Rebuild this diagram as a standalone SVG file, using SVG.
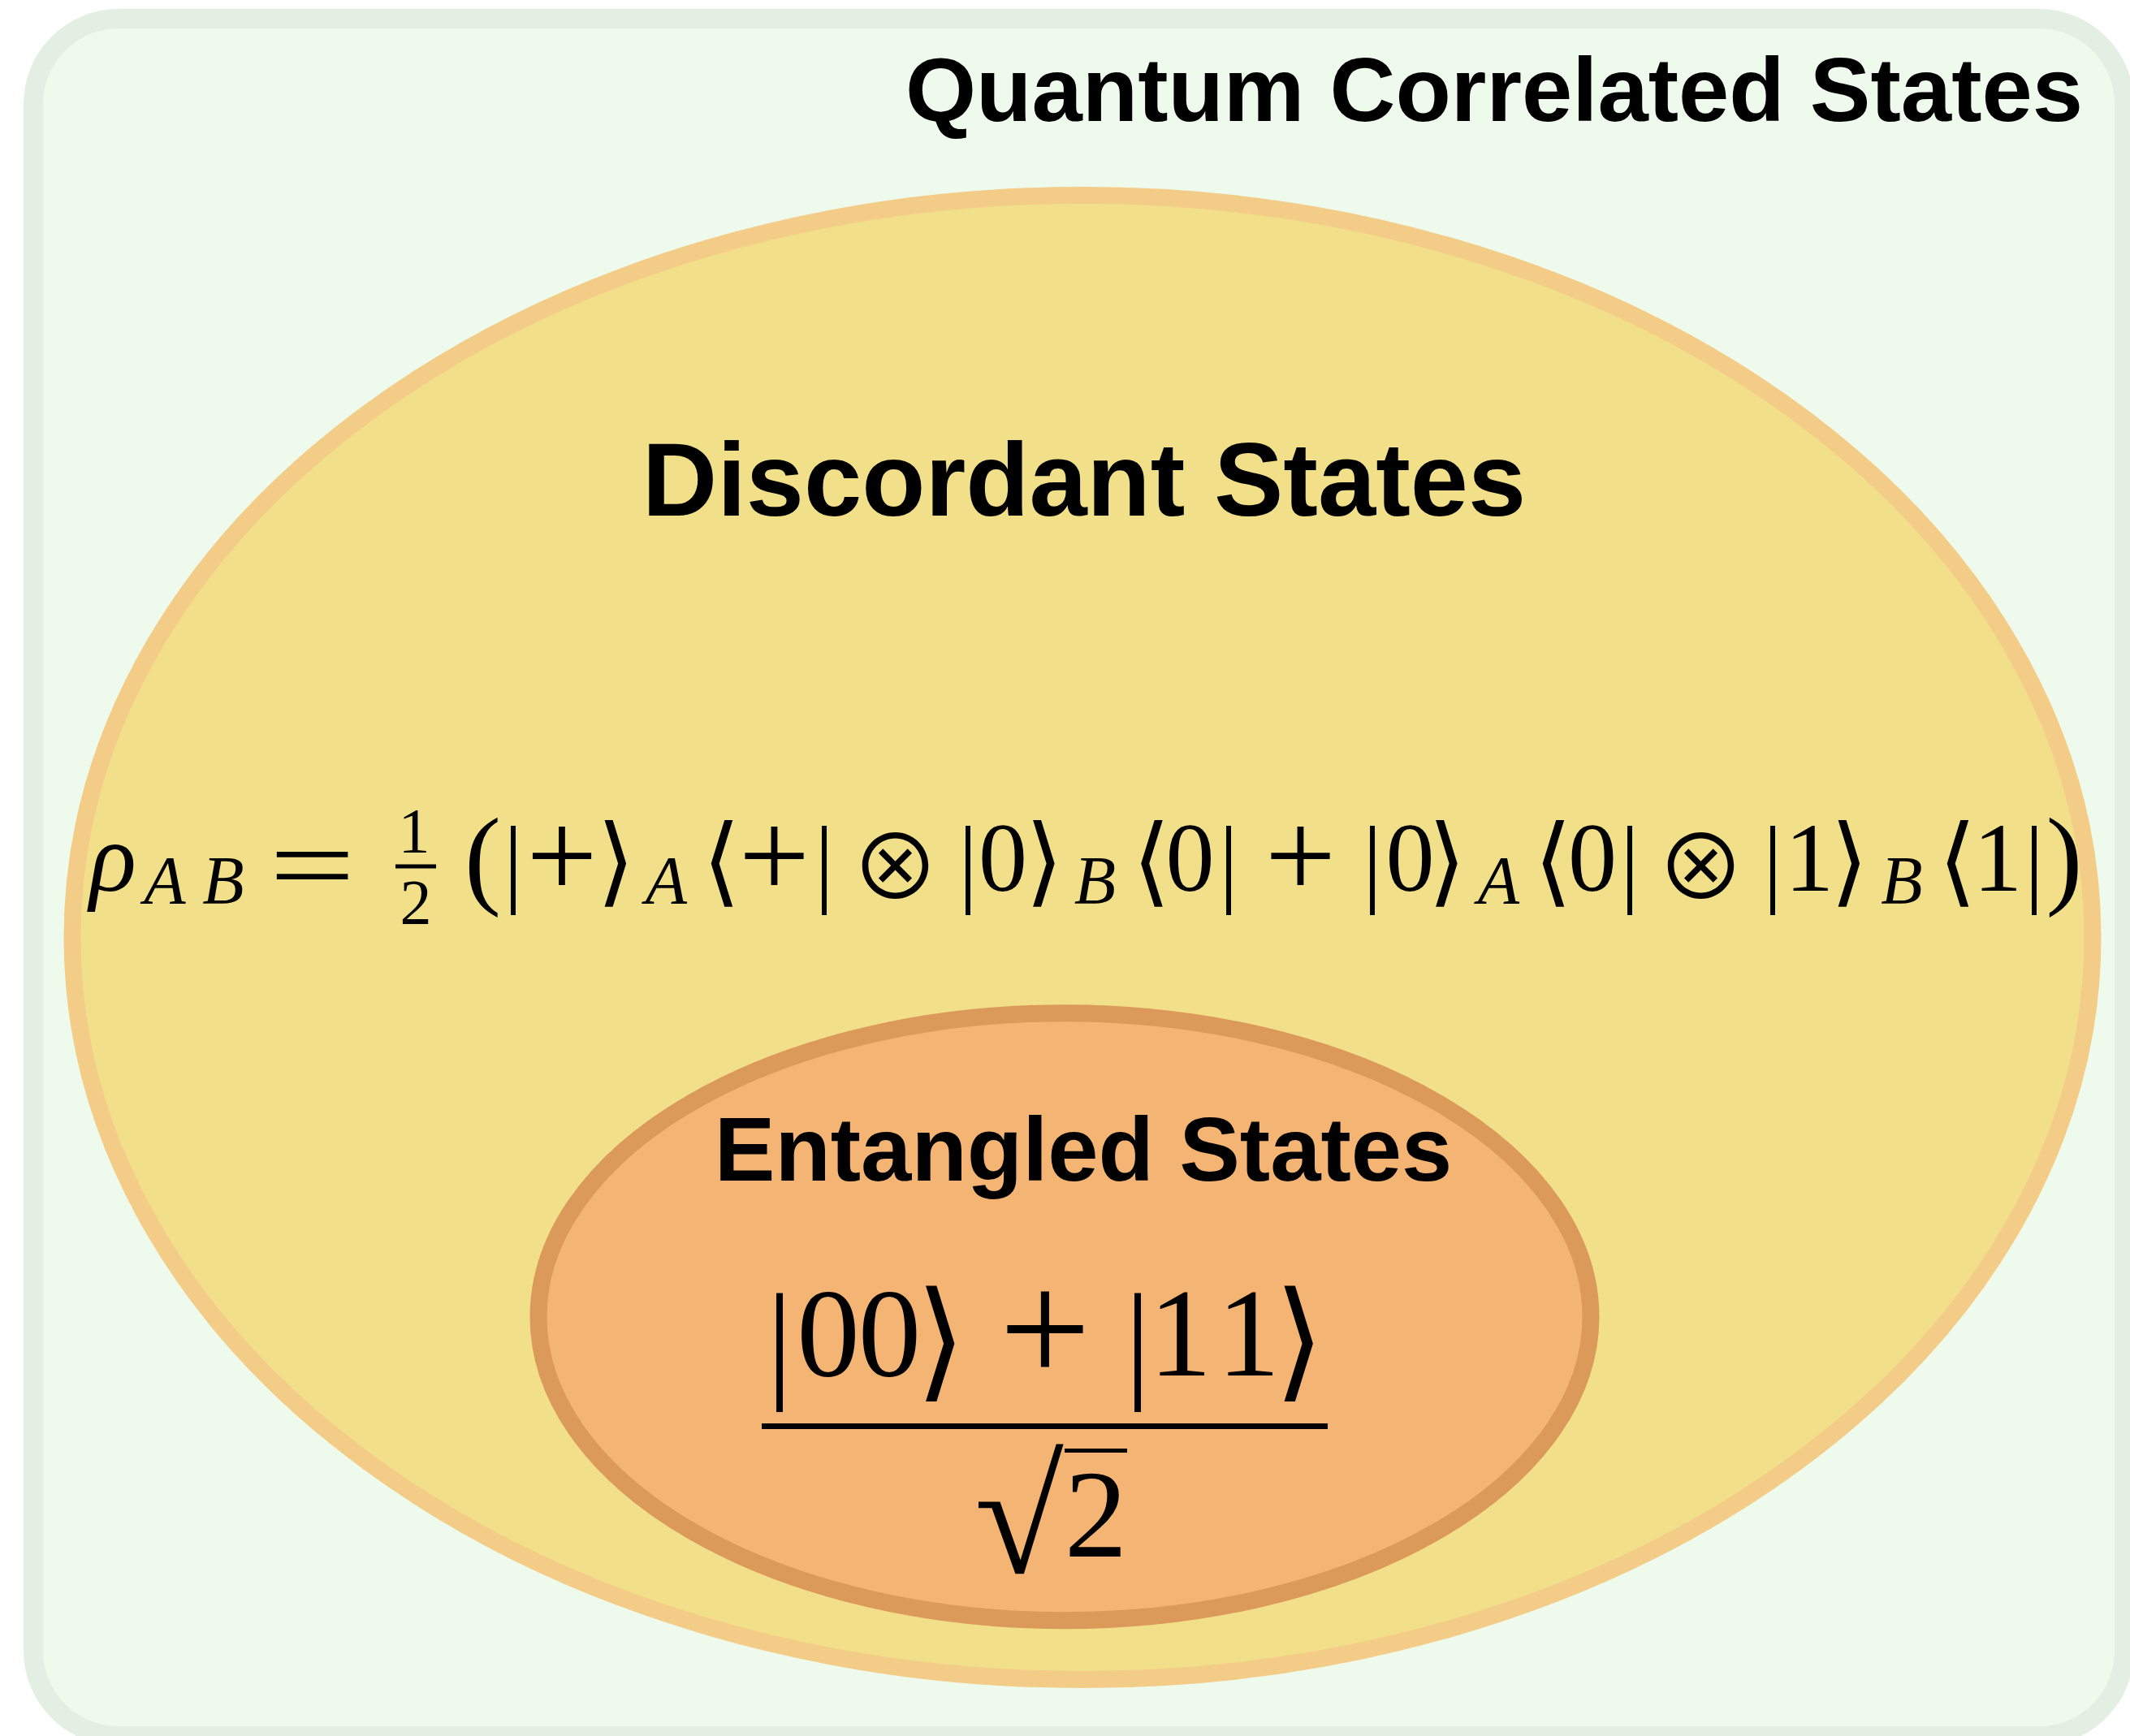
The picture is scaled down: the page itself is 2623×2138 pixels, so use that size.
<svg xmlns="http://www.w3.org/2000/svg" width="2623" height="2138" viewBox="0 0 2623 2138">
<defs>
<style>
.title{font-family:"Liberation Sans",Arial,sans-serif;font-weight:bold;fill:#000}
.m{font-family:"Liberation Serif","Times New Roman",serif;fill:#000;text-anchor:middle}
.mi{font-family:"Liberation Serif","Times New Roman",serif;font-style:italic;fill:#000;text-anchor:middle}
.sym{font-family:"DejaVu Sans","DejaVu Serif",sans-serif;fill:#000;text-anchor:middle}
.otimes{font-family:"Noto Sans CJK SC","DejaVu Sans",sans-serif;fill:#000;text-anchor:middle}
.rule{stroke:#000;fill:none}
</style>
</defs>
<rect width="2623" height="2138" fill="#ffffff"/>
<g id="quantum-correlated">
<rect x="41" y="23" width="2575" height="2115" rx="105" ry="105" fill="#eefaeb" stroke="#e3efe3" stroke-width="24"/>
<text class="title" x="2565" y="149" font-size="112" text-anchor="end">Quantum Correlated States</text>
</g>
<g id="discordant">
<ellipse cx="1333" cy="1154.5" rx="1244" ry="914" fill="#f2df8a" stroke="#f3cd87" stroke-width="21"/>
<text class="title" x="1335" y="635" font-size="128" text-anchor="middle">Discordant States</text>
<g id="discord-formula">
<text class="mi" x="139" y="1097" font-size="120">ρ</text>
<text class="mi" x="203" y="1113" font-size="84">A</text>
<text class="mi" x="275" y="1113" font-size="84">B</text>
<text class="m" x="384.5" y="1111" font-size="135" textLength="106" lengthAdjust="spacingAndGlyphs">=</text>
<text class="m" x="510" y="1049" font-size="78">1</text>
<line class="rule" x1="487" y1="1067" x2="537" y2="1067" stroke-width="5"/>
<text class="m" x="512" y="1137" font-size="78">2</text>
<text class="m" x="594.5" y="1101" font-size="135">(</text>
<text class="m" x="632" y="1101" font-size="120">|</text>
<text class="m" x="692" y="1106" font-size="155">+</text>
<text class="sym" x="758.5" y="1101" font-size="120">⟩</text>
<text class="mi" x="820.5" y="1113" font-size="84">A</text>
<text class="sym" x="888.5" y="1101" font-size="120">⟨</text>
<text class="m" x="953.5" y="1106" font-size="155">+</text>
<text class="m" x="1015" y="1101" font-size="120">|</text>
<text class="otimes" x="1102.5" y="1108" font-size="110">⊗</text>
<text class="m" x="1192" y="1101" font-size="120">|</text>
<text class="m" x="1235" y="1097" font-size="120">0</text>
<text class="sym" x="1286" y="1101" font-size="120">⟩</text>
<text class="mi" x="1348.5" y="1113" font-size="84">B</text>
<text class="sym" x="1418" y="1101" font-size="120">⟨</text>
<text class="m" x="1465.5" y="1097" font-size="120">0</text>
<text class="m" x="1513" y="1101" font-size="120">|</text>
<text class="m" x="1601.5" y="1106" font-size="155">+</text>
<text class="m" x="1690" y="1101" font-size="120">|</text>
<text class="m" x="1736.5" y="1097" font-size="120">0</text>
<text class="sym" x="1782" y="1101" font-size="120">⟩</text>
<text class="mi" x="1845.5" y="1113" font-size="84">A</text>
<text class="sym" x="1912.5" y="1101" font-size="120">⟨</text>
<text class="m" x="1961" y="1097" font-size="120">0</text>
<text class="m" x="2007" y="1101" font-size="120">|</text>
<text class="otimes" x="2094.5" y="1108" font-size="110">⊗</text>
<text class="m" x="2183" y="1101" font-size="120">|</text>
<text class="m" x="2228" y="1097" font-size="120">1</text>
<text class="sym" x="2277.5" y="1101" font-size="120">⟩</text>
<text class="mi" x="2342" y="1113" font-size="84">B</text>
<text class="sym" x="2410.5" y="1101" font-size="120">⟨</text>
<text class="m" x="2460" y="1097" font-size="120">1</text>
<text class="m" x="2505" y="1101" font-size="120">|</text>
<text class="m" x="2542" y="1101" font-size="135">)</text>
</g>
</g>
<g id="entangled">
<ellipse cx="1311" cy="1621.7" rx="648" ry="374" fill="#f4b473" stroke="#dc9a5a" stroke-width="21"/>
<text class="title" x="1334" y="1454" font-size="112" text-anchor="middle">Entangled States</text>
<g id="bell-formula">
<text class="m" x="960" y="1705" font-size="160">|</text>
<text class="m" x="1020" y="1694" font-size="155">0</text>
<text class="m" x="1095.5" y="1694" font-size="155">0</text>
<text class="sym" x="1158.5" y="1705" font-size="160">⟩</text>
<text class="m" x="1287" y="1703" font-size="200">+</text>
<text class="m" x="1401" y="1705" font-size="160">|</text>
<text class="m" x="1453.5" y="1694" font-size="155">1</text>
<text class="m" x="1537.5" y="1694" font-size="155">1</text>
<text class="sym" x="1600" y="1705" font-size="160">⟩</text>
<line class="rule" x1="938" y1="1756.5" x2="1635" y2="1756.5" stroke-width="7"/>
<text class="m" x="1255" y="1937" font-size="200">√</text>
<line class="rule" x1="1311" y1="1786.5" x2="1388" y2="1786.5" stroke-width="5"/>
<text class="m" x="1349.5" y="1917" font-size="155">2</text>
</g>
</g>
</svg>
